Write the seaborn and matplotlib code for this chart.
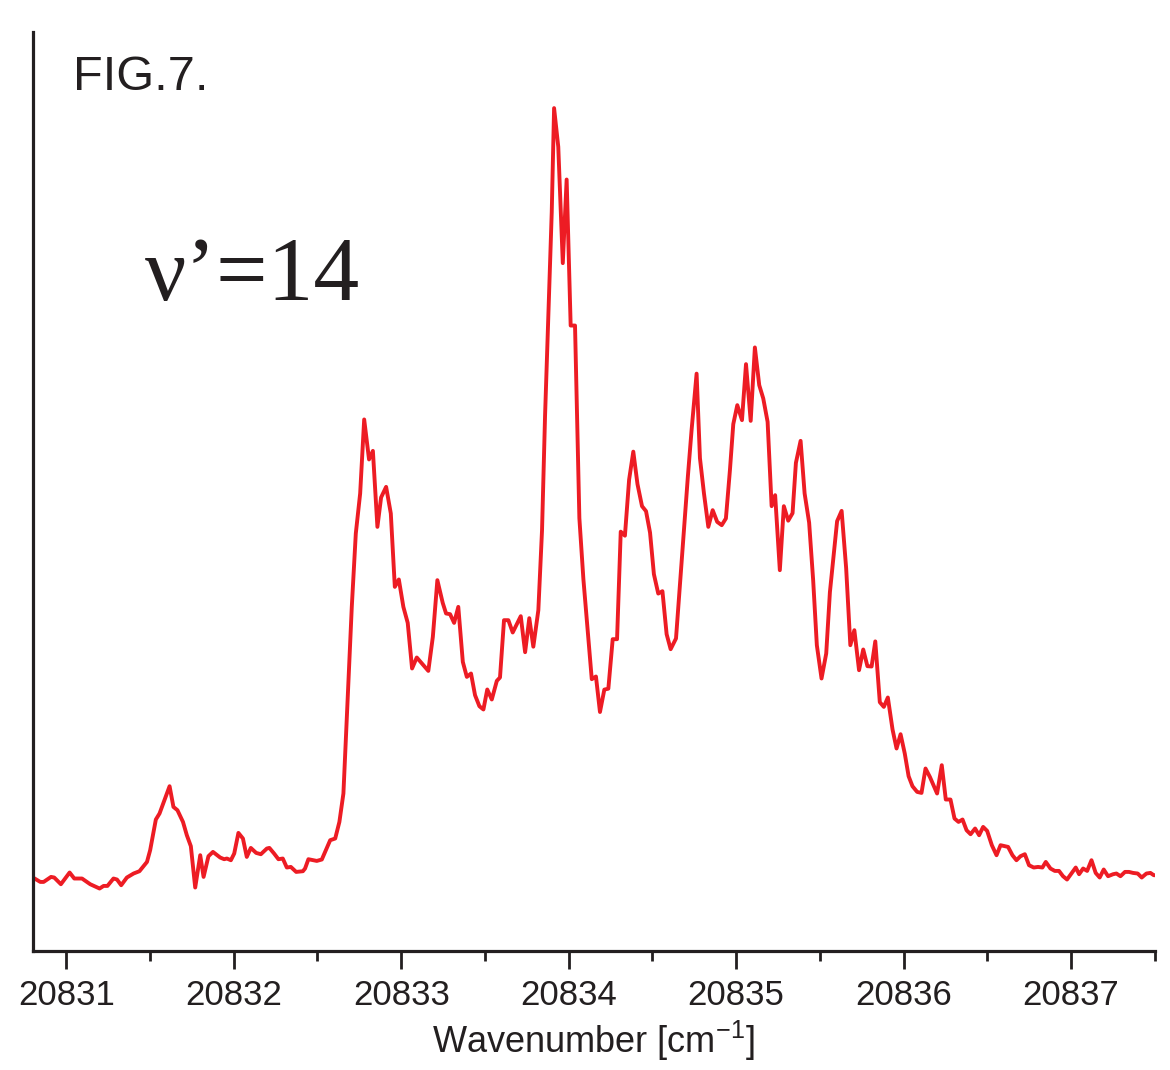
import numpy as np
import pandas as pd
import matplotlib
matplotlib.use("Agg")
import matplotlib.pyplot as plt
import seaborn as sns
from matplotlib.ticker import MultipleLocator

# ---- data ----
wavenumber = [
    20830.801, 20830.845, 20830.865, 20830.909, 20830.928, 20830.968, 20831.020, 20831.048,
    20831.094, 20831.143, 20831.199, 20831.223, 20831.246, 20831.282, 20831.303, 20831.328,
    20831.362, 20831.402, 20831.437, 20831.482, 20831.501, 20831.535, 20831.557, 20831.617,
    20831.640, 20831.664, 20831.697, 20831.720, 20831.744, 20831.770, 20831.800, 20831.820,
    20831.849, 20831.876, 20831.919, 20831.943, 20831.959, 20831.983, 20832.003, 20832.028,
    20832.055, 20832.078, 20832.102, 20832.134, 20832.162, 20832.198, 20832.213, 20832.241,
    20832.267, 20832.293, 20832.317, 20832.341, 20832.373, 20832.413, 20832.426, 20832.446,
    20832.496, 20832.526, 20832.576, 20832.606, 20832.631, 20832.655,
    20832.675, 20832.705, 20832.729, 20832.755, 20832.779, 20832.808, 20832.831, 20832.858,
    20832.880, 20832.910, 20832.938, 20832.962, 20832.986, 20833.013, 20833.039, 20833.065,
    20833.093, 20833.162, 20833.189, 20833.216, 20833.248, 20833.268, 20833.292, 20833.316,
    20833.341, 20833.368, 20833.392, 20833.417, 20833.441, 20833.467, 20833.491, 20833.514,
    20833.541, 20833.571, 20833.590, 20833.614, 20833.640, 20833.666, 20833.714, 20833.740,
    20833.765, 20833.789, 20833.819, 20833.841, 20833.859, 20833.885, 20833.899, 20833.913,
    20833.938, 20833.965, 20833.988, 20834.012, 20834.038, 20834.064, 20834.088, 20834.138,
    20834.163, 20834.187, 20834.213, 20834.237, 20834.263, 20834.289, 20834.311, 20834.336,
    20834.361, 20834.386, 20834.411, 20834.438, 20834.462, 20834.486, 20834.509, 20834.535,
    20834.560, 20834.585, 20834.609, 20834.641, 20834.677, 20834.712, 20834.734, 20834.764,
    20834.784, 20834.808, 20834.834, 20834.860, 20834.887, 20834.914, 20834.939, 20834.963,
    20834.983, 20835.007, 20835.035, 20835.059, 20835.087, 20835.112, 20835.138, 20835.162,
    20835.188, 20835.212, 20835.233, 20835.261, 20835.285, 20835.311, 20835.337, 20835.357,
    20835.385, 20835.409, 20835.436, 20835.460, 20835.482, 20835.510, 20835.538, 20835.560,
    20835.603, 20835.630, 20835.657, 20835.682, 20835.706, 20835.734, 20835.759, 20835.784,
    20835.809, 20835.831, 20835.858, 20835.882, 20835.906, 20835.934, 20835.958, 20835.982,
    20836.007, 20836.030, 20836.053, 20836.081, 20836.107, 20836.131, 20836.157, 20836.200,
    20836.228, 20836.252, 20836.280, 20836.304, 20836.328, 20836.352, 20836.376, 20836.400,
    20836.427, 20836.451, 20836.475, 20836.499, 20836.527, 20836.555, 20836.579, 20836.624,
    20836.650, 20836.674, 20836.698, 20836.724, 20836.749, 20836.777, 20836.803, 20836.829,
    20836.849, 20836.877, 20836.903, 20836.928, 20836.952, 20836.976, 20837.002, 20837.028,
    20837.048, 20837.072, 20837.096, 20837.122, 20837.147, 20837.171, 20837.195, 20837.221,
    20837.251, 20837.271, 20837.295, 20837.322, 20837.346, 20837.370, 20837.398, 20837.422,
    20837.450, 20837.474, 20837.494, 20837.510,
]

intensity = [
    73.7, 69.3, 69.3, 74.3, 73.7, 67.0, 78.7, 72.7,
    72.7, 67.0, 62.7, 65.3, 65.3, 72.7, 71.7, 66.0,
    73.7, 77.7, 80.0, 89.3, 101.0, 131.7, 137.7, 165.0,
    144.3, 141.0, 129.3, 116.0, 105.0, 63.7, 96.0, 74.3,
    95.0, 99.3, 93.7, 92.0, 92.7, 91.0, 97.7, 118.3,
    112.7, 94.3, 103.3, 98.3, 97.0, 102.7, 103.3, 97.7,
    92.0, 92.7, 83.7, 84.3, 79.3, 80.0, 82.7, 92.0,
    90.3, 91.7, 111.0, 112.7, 129.3, 157.7,
    232.7, 344.3, 417.7, 457.7, 531.7, 491.7, 500.3, 424.3,
    453.7, 464.3, 437.7, 364.3, 371.7, 344.3, 328.3, 282.7,
    293.7, 280.3, 314.3, 371.0, 348.3, 337.7, 337.0, 328.3,
    344.3, 289.3, 274.3, 277.7, 256.0, 245.0, 241.7, 261.7,
    251.7, 270.3, 273.7, 331.0, 331.0, 318.7, 335.0, 299.0,
    333.0, 304.5, 341.0, 421.0, 535.0, 666.0, 739.0, 843.0,
    804.3, 688.0, 771.6, 625.6, 625.6, 433.0, 372.0, 272.0,
    274.7, 239.2, 261.6, 262.5, 312.0, 312.0, 419.5, 415.5,
    471.5, 499.5, 467.0, 445.0, 440.0, 418.5, 377.0, 357.6,
    360.0, 317.0, 302.0, 312.7, 395.0, 475.0, 521.0, 577.5,
    493.0, 457.7, 424.3, 441.0, 429.3, 426.0, 432.7, 481.0,
    527.0, 546.0, 531.0, 587.0, 530.3, 603.7, 566.0, 552.7,
    529.3, 445.0, 456.0, 381.0, 445.0, 430.5, 438.0, 488.3,
    510.3, 457.7, 428.5, 371.0, 306.0, 272.7, 297.7, 359.0,
    430.0, 440.3, 383.0, 306.0, 321.0, 281.0, 301.7, 285.0,
    284.7, 309.8, 249.0, 244.3, 253.7, 221.7, 202.7, 217.0,
    197.7, 175.0, 165.0, 159.3, 158.3, 182.7, 174.3, 157.7,
    186.0, 151.7, 151.7, 132.7, 129.3, 131.7, 121.0, 117.0,
    122.7, 116.0, 124.3, 120.3, 106.0, 96.0, 106.0, 104.3,
    96.0, 91.0, 95.0, 97.0, 86.0, 83.7, 84.3, 83.7,
    89.3, 82.7, 80.3, 80.3, 75.0, 71.7, 77.7, 83.7,
    77.0, 82.7, 80.3, 91.0, 78.3, 73.7, 81.7, 75.0,
    77.0, 77.7, 75.0, 79.3, 79.3, 78.3, 77.7, 73.7,
    77.7, 78.3, 76.0, 76.0,
]

tick_values = [20831, 20832, 20833, 20834, 20835, 20836, 20837]
tick_labels = ["20831", "20832", "20833", "20834", "20835", "20836", "20837"]

df = pd.DataFrame({"wavenumber": wavenumber, "intensity": intensity})

# ---- style ----
sns.set_theme(style="ticks")
plt.rcParams["font.family"] = ["Liberation Sans", "DejaVu Sans"]

fig = plt.figure(figsize=(11.7, 10.7), dpi=100)
ax = fig.add_axes([0.028, 0.111, 0.959, 0.859])

sns.lineplot(data=df, x="wavenumber", y="intensity", ax=ax,
             color="#ED1C24", linewidth=2.8, estimator=None, sort=False)

ax.set_xlim(20830.80, 20837.50)
ax.set_ylim(0, 919)

sns.despine(ax=ax, top=True, right=True)
for s in ("left", "bottom"):
    ax.spines[s].set_linewidth(2.3)
    ax.spines[s].set_color("#231F20")

ax.set_xticks(tick_values)
ax.set_xticklabels(tick_labels)
ax.xaxis.set_minor_locator(MultipleLocator(0.5))
ax.tick_params(axis="x", which="major", direction="out", length=13, width=2.0,
               color="#231F20", labelsize=25, labelcolor="#231F20", pad=7)
ax.tick_params(axis="x", which="minor", direction="out", length=7, width=2.0,
               color="#231F20")
ax.set_yticks([])
ax.tick_params(axis="y", which="both", left=False, labelleft=False)

ax.set_ylabel("")
ax.set_xlabel("Wavenumber [cm$^{\\mathregular{-1}}$]", fontsize=26,
              color="#231F20", labelpad=5)

fig.text(0.0624, 0.9159, "FIG.7.", fontsize=35, color="#231F20",
         ha="left", va="baseline")
fig.text(0.124, 0.7196, "\u03bd\u2019=14", fontsize=66, color="#231F20",
         family=["Liberation Serif", "DejaVu Serif"], ha="left", va="baseline")

fig.savefig("out.png", dpi=100, facecolor="white")
